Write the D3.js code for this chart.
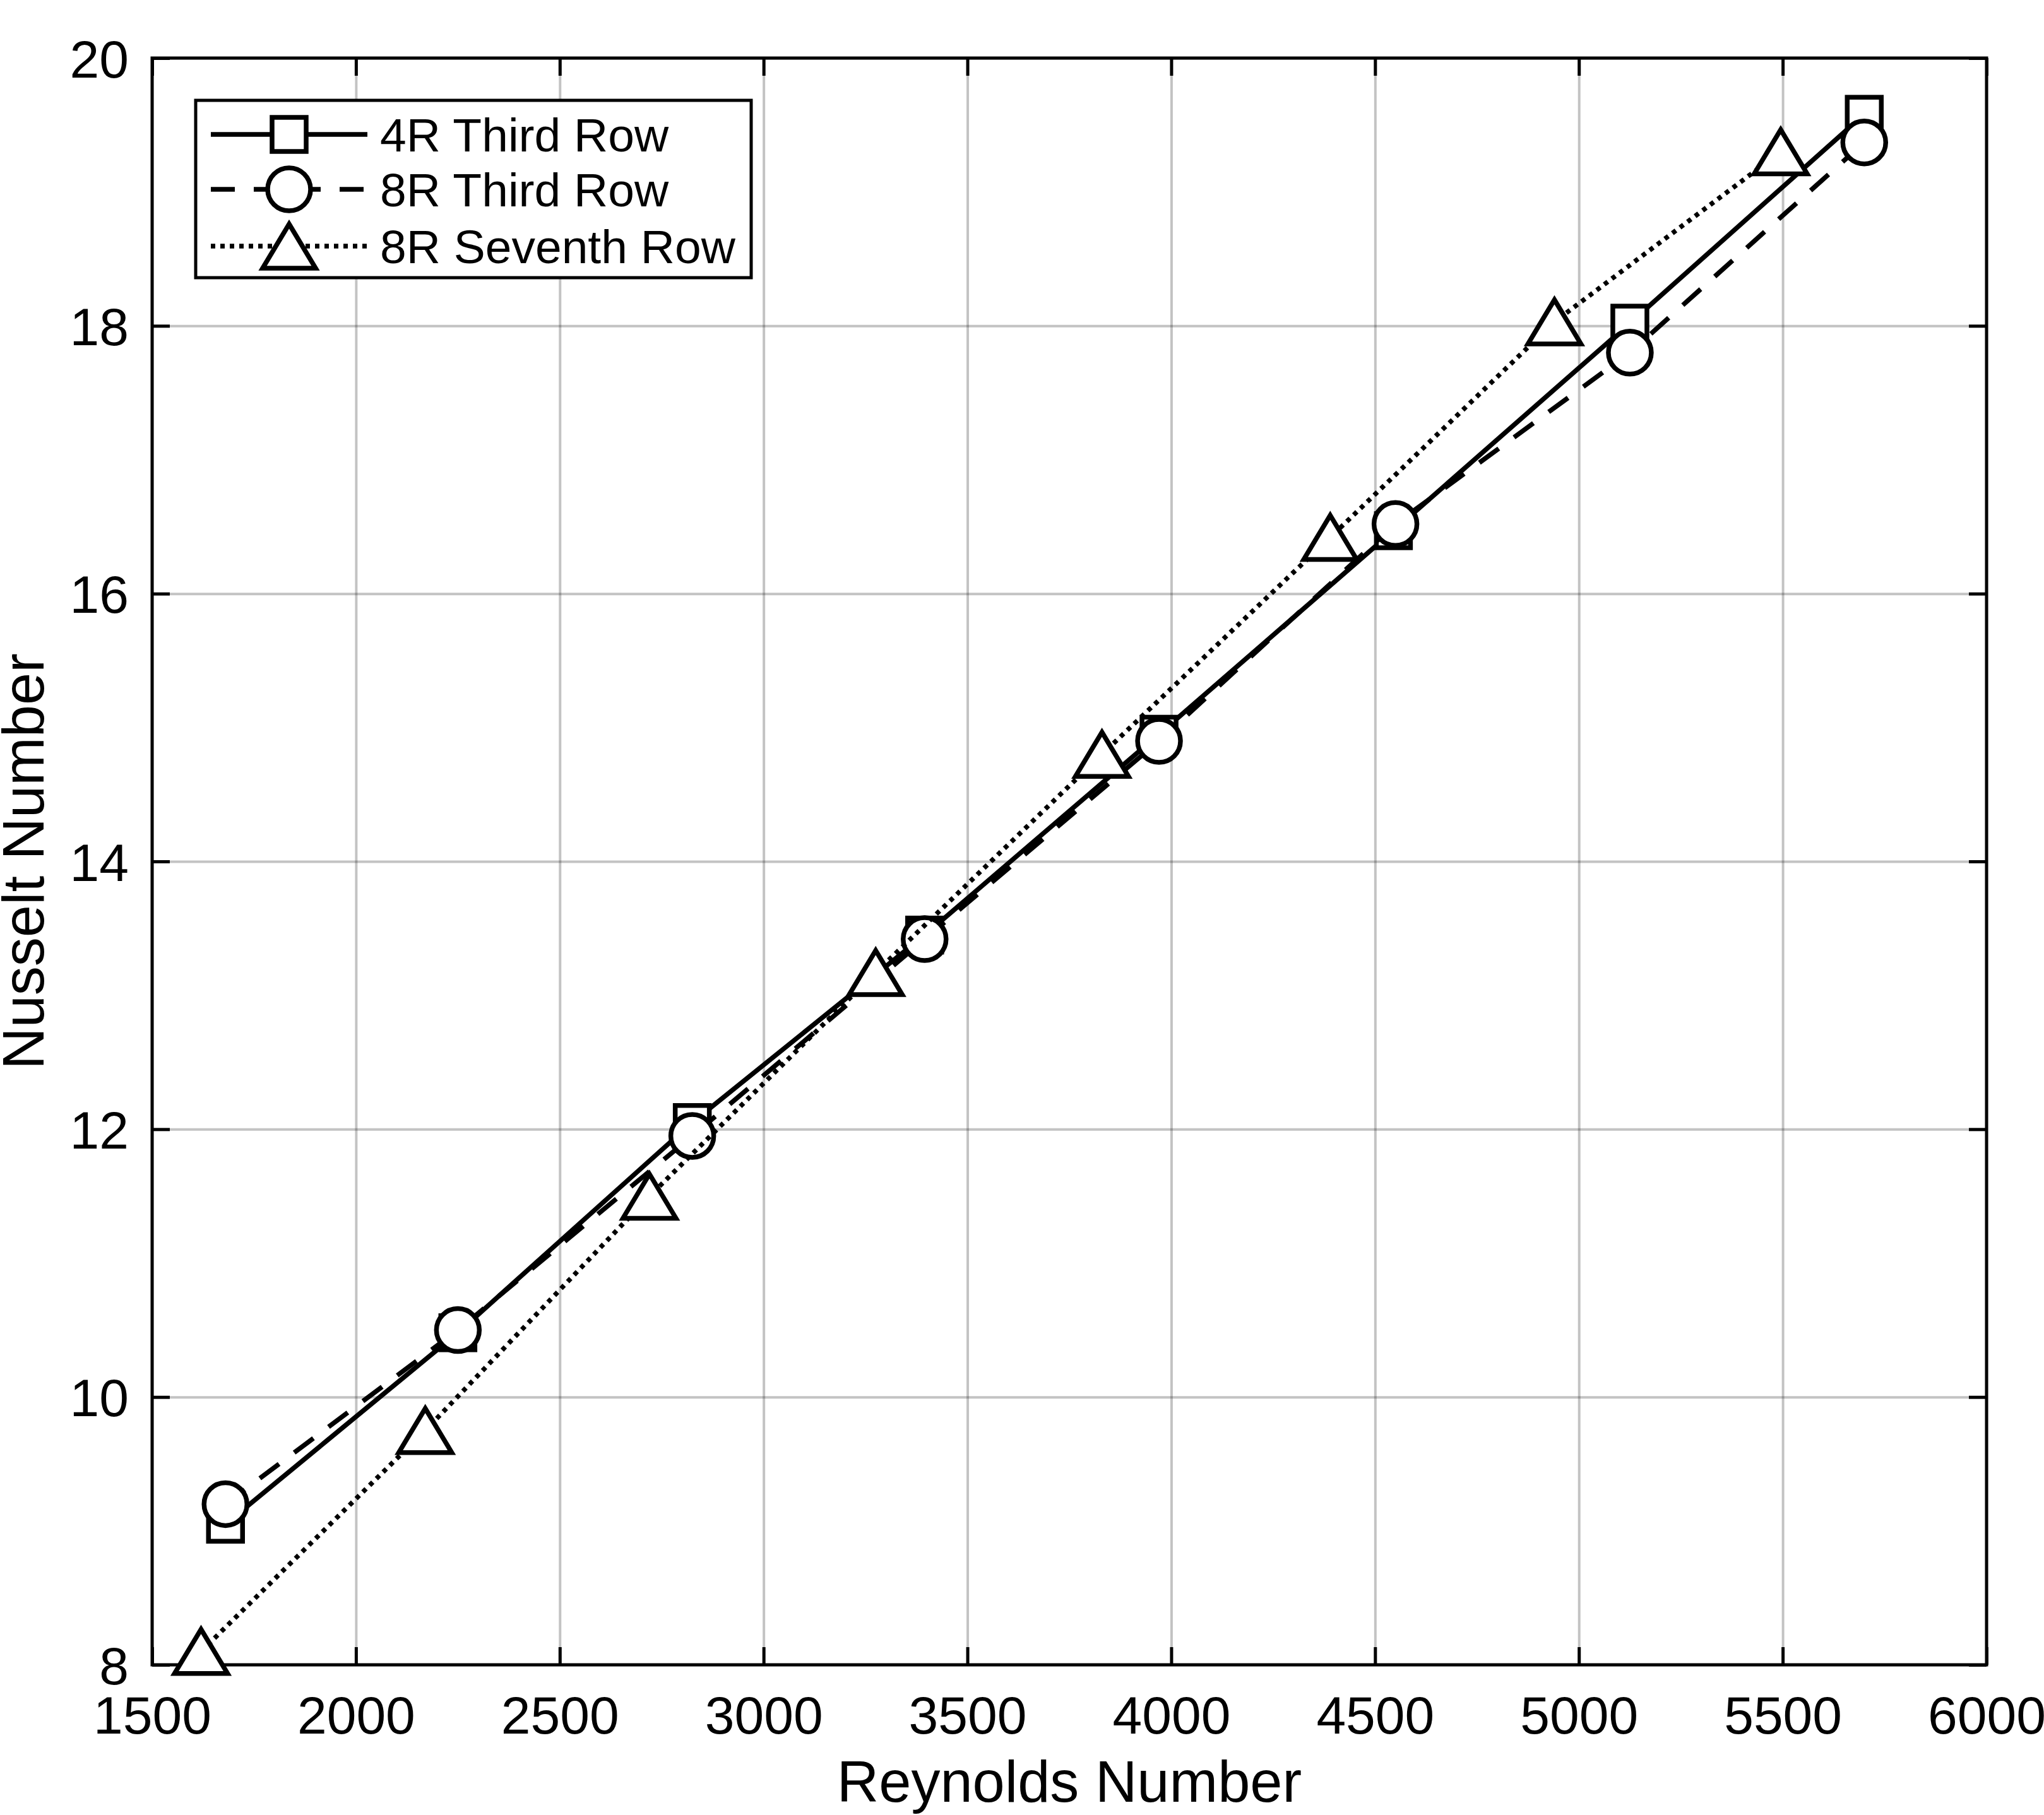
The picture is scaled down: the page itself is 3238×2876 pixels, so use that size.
<!DOCTYPE html>
<html>
<head>
<meta charset="utf-8">
<script src="https://cdn.jsdelivr.net/npm/d3@7"></script>
<style>
  html, body { margin: 0; padding: 0; background: #fff; }
  text { font-family: "Liberation Sans", Arial, Helvetica, sans-serif; fill: #000; }
</style>
</head>
<body>
<script>
// ---- data ----
const xTicks = [1500, 2000, 2500, 3000, 3500, 4000, 4500, 5000, 5500, 6000];
const yTicks = [8, 10, 12, 14, 16, 18, 20];

const re4R3 = [1680, 2250, 2825, 3395, 3970, 4545, 5125, 5700];
const nu4R3 = [9.05, 10.48, 12.05, 13.45, 14.95, 16.47, 18.02, 19.58];

const re8R3 = [1680, 2250, 2825, 3395, 3970, 4550, 5125, 5700];
const nu8R3 = [9.2, 10.5, 11.95, 13.42, 14.9, 16.52, 17.8, 19.37];

const re8R7 = [1620, 2170, 2720, 3275, 3830, 4390, 4940, 5495];
const nu8R7 = [8.1, 9.75, 11.5, 13.17, 14.8, 16.42, 18.03, 19.3];

const seriesNames = ["4R Third Row", "8R Third Row", "8R Seventh Row"];

// ---- layout ----
const W = 3238, H = 2876;
const L = 241, T = 92, PW = 2906, PH = 2546;

const svg = d3.select("body").append("svg")
  .attr("width", W).attr("height", H)
  .style("display", "block");
svg.append("rect").attr("width", W).attr("height", H).attr("fill", "#fff");

const x = d3.scaleLinear().domain([1500, 6000]).range([L, L + PW]);
const y = d3.scaleLinear().domain([8, 20]).range([T + PH, T]);

// grid
const grid = svg.append("g");
grid.append("g").attr("transform", `translate(0,${T + PH})`)
  .call(d3.axisBottom(x).tickValues(xTicks).tickSize(-PH).tickFormat(""))
  .call(g => g.select(".domain").remove())
  .call(g => g.selectAll("line").attr("stroke", "#000").attr("stroke-opacity", 0.235).attr("stroke-width", 4));
grid.append("g").attr("transform", `translate(${L},0)`)
  .call(d3.axisLeft(y).tickValues(yTicks).tickSize(-PW).tickFormat(""))
  .call(g => g.select(".domain").remove())
  .call(g => g.selectAll("line").attr("stroke", "#000").attr("stroke-opacity", 0.235).attr("stroke-width", 4));

// axes with inward ticks on all four sides
const tickLen = 28;
const fontSize = 84;
function styleAxis(g) {
  g.select(".domain").remove();
  g.selectAll("line").attr("stroke", "#000").attr("stroke-width", 5);
}
const xb = svg.append("g").attr("transform", `translate(0,${T + PH})`)
  .call(d3.axisBottom(x).tickValues(xTicks).tickSizeInner(-tickLen).tickSizeOuter(0).tickPadding(0).tickFormat(d3.format("d")))
  .call(styleAxis);
xb.selectAll("text").attr("font-size", fontSize).attr("y", 109).attr("dy", 0)
  .attr("font-family", "Liberation Sans, Arial, sans-serif");

svg.append("g").attr("transform", `translate(0,${T})`)
  .call(d3.axisTop(x).tickValues(xTicks).tickSizeInner(-tickLen).tickSizeOuter(0).tickFormat(""))
  .call(styleAxis);

const yl = svg.append("g").attr("transform", `translate(${L},0)`)
  .call(d3.axisLeft(y).tickValues(yTicks).tickSizeInner(-tickLen).tickSizeOuter(0).tickPadding(0).tickFormat(d3.format("d")))
  .call(styleAxis);
yl.selectAll("text").attr("font-size", fontSize).attr("x", -37).attr("dy", "0.36em")
  .attr("font-family", "Liberation Sans, Arial, sans-serif");

svg.append("g").attr("transform", `translate(${L + PW},0)`)
  .call(d3.axisRight(y).tickValues(yTicks).tickSizeInner(-tickLen).tickSizeOuter(0).tickFormat(""))
  .call(styleAxis);

// box
svg.append("rect").attr("x", L).attr("y", T).attr("width", PW).attr("height", PH)
  .attr("fill", "none").attr("stroke", "#000").attr("stroke-width", 5);

// axis labels
svg.append("text").attr("x", L + PW / 2).attr("y", 2855)
  .attr("text-anchor", "middle").attr("font-size", 92).text("Reynolds Number");
svg.append("text").attr("transform", `translate(69,${T + PH / 2}) rotate(-90)`)
  .attr("text-anchor", "middle").attr("font-size", 92).text("Nusselt Number");

// ---- markers ----
const MS = 54;      // square side
const MC = 34;      // circle radius
const TW = 84, TH = 70; // triangle
const lineW = 7.5, markW = 7.5;

function drawMarker(g, type, cx, cy) {
  if (type === "square") {
    g.append("rect").attr("x", cx - MS / 2).attr("y", cy - MS / 2)
      .attr("width", MS).attr("height", MS)
      .attr("fill", "#fff").attr("stroke", "#000").attr("stroke-width", markW);
  } else if (type === "circle") {
    g.append("circle").attr("cx", cx).attr("cy", cy).attr("r", MC)
      .attr("fill", "#fff").attr("stroke", "#000").attr("stroke-width", markW);
  } else {
    const p = [[cx, cy - TH / 2], [cx + TW / 2, cy + TH / 2], [cx - TW / 2, cy + TH / 2]];
    g.append("path").attr("d", "M" + p.map(q => q.join(",")).join("L") + "Z")
      .attr("fill", "#fff").attr("stroke", "#000").attr("stroke-width", markW)
      .attr("stroke-linejoin", "miter");
  }
}

const series = [
  { name: seriesNames[0], xs: re4R3, ys: nu4R3, dash: null, marker: "square" },
  { name: seriesNames[1], xs: re8R3, ys: nu8R3, dash: "38,30", marker: "circle" },
  { name: seriesNames[2], xs: re8R7, ys: nu8R7, dash: "7,8", marker: "triangle" }
];

const line = d3.line().x(d => x(d[0])).y(d => y(d[1]));
const dataG = svg.append("g");
series.forEach(s => {
  const g = dataG.append("g");
  const pts = s.xs.map((v, i) => [v, s.ys[i]]);
  g.append("path").datum(pts).attr("d", line)
    .attr("fill", "none").attr("stroke", "#000").attr("stroke-width", lineW)
    .attr("stroke-dasharray", s.dash);
  pts.forEach(p => drawMarker(g, s.marker, x(p[0]), y(p[1])));
});

// ---- legend ----
const lg = svg.append("g");
lg.append("rect").attr("x", 310).attr("y", 159).attr("width", 880).attr("height", 281)
  .attr("fill", "#fff").attr("stroke", "#000").attr("stroke-width", 5);
const rowY = [213, 300, 390];
series.forEach((s, i) => {
  const g = lg.append("g");
  g.append("line").attr("x1", 334).attr("x2", 582).attr("y1", rowY[i]).attr("y2", rowY[i])
    .attr("stroke", "#000").attr("stroke-width", lineW).attr("stroke-dasharray", s.dash);
  drawMarker(g, s.marker, 458, rowY[i]);
  g.append("text").attr("x", 602).attr("y", rowY[i]).attr("dy", "0.36em")
    .attr("font-size", 75).text(s.name);
});
</script>
</body>
</html>
